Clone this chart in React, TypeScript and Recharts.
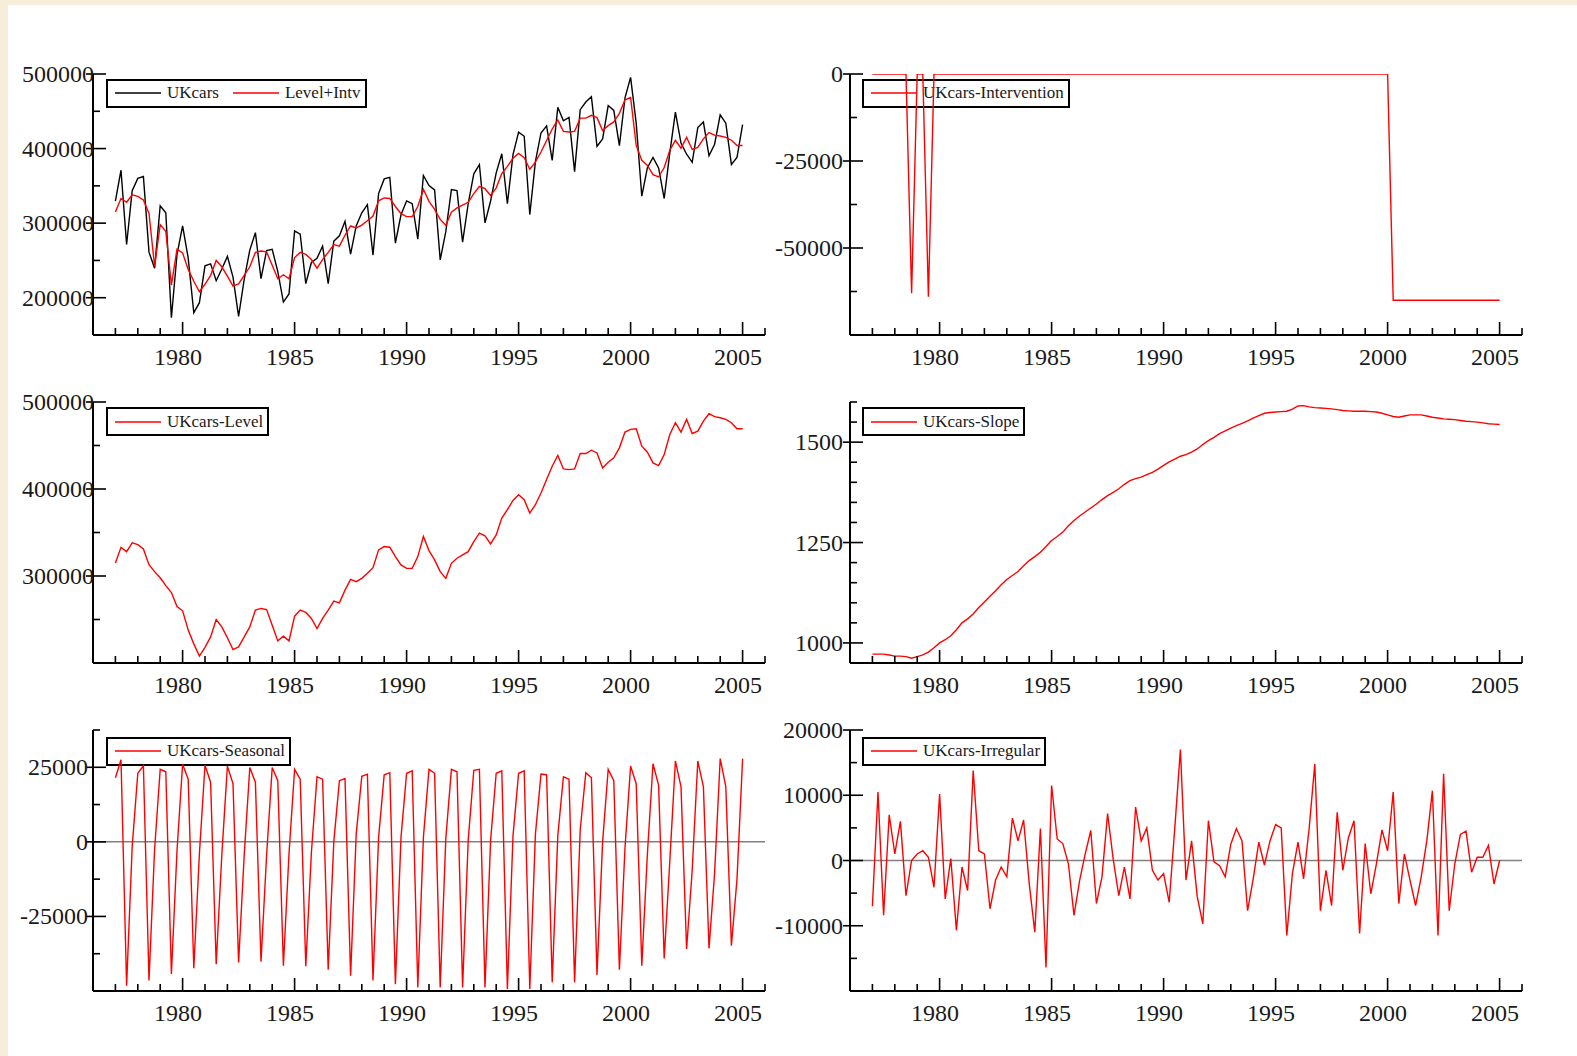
import React from 'react';
import { LineChart, Line, XAxis, YAxis, ReferenceLine } from 'recharts';

// quarterly observations, 1977Q1 .. 2005Q1 (one row per year)
const FIRST_YEAR = 1977;

const ukCars = [
  329500, 371000, 271400, 343500, // 1977
  360000, 362500, 261100, 239500,
  323300, 314000, 173200, 257900,
  296200, 253100, 179900, 193300, // 1980
  242700, 245400, 222800, 238500,
  255400, 227600, 175100, 224500,
  263900, 287300, 225500, 263200,
  264900, 234900, 194200, 205000,
  289600, 285100, 219000, 247200, // 1985
  253000, 269100, 218900, 275800,
  283100, 302500, 258500, 296200,
  313900, 324800, 257200, 339700,
  359300, 361300, 273100, 311200,
  329800, 326200, 278500, 363900, // 1990
  350500, 344500, 250700, 288600,
  345000, 343700, 274600, 326000,
  366100, 378400, 300400, 329700,
  367500, 393100, 326200, 391900,
  422000, 416500, 311500, 382400, // 1995
  420900, 430500, 384100, 455300,
  437200, 441800, 369100, 452200,
  462500, 469600, 403000, 413000,
  457700, 451200, 403900, 468100,
  495400, 434200, 336100, 374300, // 2000
  388200, 374000, 333000, 394200,
  449000, 407400, 392400, 381600,
  428100, 435600, 390300, 405800,
  445300, 434000, 378700, 388100,
  432100, // 2005
];

const level = [
  315000, 333000, 328000, 338000, // 1977
  336000, 331000, 313000, 305000,
  298000, 289000, 281000, 265000,
  260000, 238000, 222000, 208000, // 1980
  218000, 230000, 250000, 241500,
  229000, 215500, 218500, 230000,
  241500, 260800, 262700, 261500,
  243500, 225400, 230800, 225400,
  253800, 260800, 258100, 251200, // 1985
  239600, 251200, 260800, 271200,
  269200, 283800, 296200, 293500,
  297300, 303100, 309600, 330000,
  333800, 333100, 322300, 312700,
  308800, 308800, 322300, 345400, // 1990
  329200, 318500, 305000, 297300,
  314600, 320400, 324200, 328000,
  339600, 349200, 346200, 336900,
  347300, 366500, 376200, 386900,
  393500, 387700, 372300, 381900, // 1995
  395400, 410800, 426200, 438500,
  423100, 422300, 423100, 440800,
  440800, 444600, 441500, 424200,
  430800, 435800, 447300, 465400,
  468500, 469200, 449200, 442300, // 2000
  430000, 426900, 439600, 462700,
  476200, 465400, 480000, 463800,
  466500, 478100, 486500, 483100,
  481900, 480000, 476200, 469200,
  469200, // 2005
];

const intervention = [
  0, 0, 0, 0, // 1977
  0, 0, 0, -63000,
  0, 0, -64000, 0,
  0, 0, 0, 0, // 1980
  0, 0, 0, 0,
  0, 0, 0, 0,
  0, 0, 0, 0,
  0, 0, 0, 0,
  0, 0, 0, 0, // 1985
  0, 0, 0, 0,
  0, 0, 0, 0,
  0, 0, 0, 0,
  0, 0, 0, 0,
  0, 0, 0, 0, // 1990
  0, 0, 0, 0,
  0, 0, 0, 0,
  0, 0, 0, 0,
  0, 0, 0, 0,
  0, 0, 0, 0, // 1995
  0, 0, 0, 0,
  0, 0, 0, 0,
  0, 0, 0, 0,
  0, 0, 0, 0,
  0, -65000, -65000, -65000, // 2000
  -65000, -65000, -65000, -65000,
  -65000, -65000, -65000, -65000,
  -65000, -65000, -65000, -65000,
  -65000, -65000, -65000, -65000,
  -65000, // 2005
];

const slope = [
  972, 972, 972, 970, // 1977
  967, 967, 966, 962,
  966, 970, 977, 988,
  1000, 1008, 1018, 1033, // 1980
  1050, 1060, 1072, 1088,
  1102, 1116, 1130, 1145,
  1158, 1168, 1178, 1192,
  1205, 1215, 1226, 1240,
  1255, 1265, 1276, 1292, // 1985
  1305, 1316, 1326, 1336,
  1346, 1357, 1367, 1375,
  1384, 1395, 1404, 1409,
  1413, 1419, 1425, 1433,
  1442, 1451, 1458, 1465, // 1990
  1469, 1475, 1483, 1494,
  1504, 1512, 1521, 1528,
  1535, 1541, 1547, 1553,
  1560, 1566, 1572, 1574,
  1575, 1576, 1577, 1582, // 1995
  1590, 1591, 1588, 1586,
  1585, 1584, 1583, 1581,
  1579, 1578, 1577, 1577,
  1577, 1576, 1575, 1572,
  1568, 1564, 1562, 1565, // 2000
  1568, 1568, 1568, 1565,
  1562, 1560, 1558, 1557,
  1556, 1554, 1552, 1551,
  1550, 1548, 1546, 1545,
  1544, // 2005
];

const seasonal = [
  21500, 27500, -48200, -1500, // 1977
  23000, 25500, -46500, -2500,
  24300, 23500, -44300, -3000,
  26000, 21000, -42400, -4000, // 1980
  25700, 20000, -41000, -4500,
  25400, 19500, -40400, -4500,
  24900, 20000, -40200, -4500,
  24900, 20500, -41500, -4000,
  24300, 21000, -41700, -3500, // 1985
  21800, 21000, -42900, 0,
  20500, 21200, -44900, 2500,
  22000, 22700, -46500, 1500,
  22500, 23200, -47700, 1500,
  23000, 23800, -48800, 1500, // 1990
  24300, 23000, -48800, 1000,
  24300, 23500, -48800, 500,
  24000, 24300, -48800, 500,
  23000, 23800, -49300, 2000,
  23000, 23800, -49300, 2500, // 1995
  22700, 22500, -47100, 2000,
  21800, 21000, -47100, 4000,
  23200, 21500, -44600, 0,
  24300, 20500, -42900, -2000,
  25400, 19500, -41500, -4000, // 2000
  26200, 19000, -39100, -6500,
  27100, 18500, -35900, -9500,
  27100, 18500, -35700, -10500,
  27900, 18500, -34800, -12500,
  27900, // 2005
];

const irregular = [
  -7000, 10500, -8400, 7000, // 1977
  1000, 6000, -5400, 0,
  1000, 1500, 500, -4100,
  10200, -5900, 300, -10700, // 1980
  -1000, -4600, 13800, 1500,
  1000, -7400, -3000, -1000,
  -2500, 6500, 3000, 6200,
  -3500, -11000, 4900, -16400,
  11500, 3300, 2600, -500, // 1985
  -8400, -3100, 1000, 4600,
  -6600, -2500, 7200, 200,
  -5400, -1000, -5900, 8200,
  3000, 5000, -1500, -3000,
  -2000, -6400, 5000, 17000, // 1990
  -3000, 3000, -5500, -9700,
  6100, -200, -800, -2500,
  2500, 4900, 3000, -7700,
  -2800, 2800, -700, 3000,
  5500, 5000, -11500, -2000, // 1995
  2800, -2800, 5000, 14800,
  -7700, -1500, -6900, 7400,
  -1500, 3500, 6100, -11200,
  2600, -5100, -500, 4700,
  1500, 10500, -6600, 1000, // 2000
  -3000, -6900, -2500, 3000,
  10700, -11500, 13300, -7700,
  -500, 4000, 4500, -1800,
  500, 500, 2300, -3600,
  0, // 2005
];

const xTicks = [
  1977, 1978, 1979, 1980, 1981, 1982, 1983, 1984, 1985, 1986,
  1987, 1988, 1989, 1990, 1991, 1992, 1993, 1994, 1995, 1996,
  1997, 1998, 1999, 2000, 2001, 2002, 2003, 2004, 2005, 2006,
];
const xLabelYears = [1980, 1985, 1990, 1995, 2000, 2005];

const rows = ukCars.map((v, i) => ({
  t: FIRST_YEAR + i / 4,
  ukcars: v,
  levelIntv: level[i] + intervention[i],
  intervention: intervention[i],
  level: level[i],
  slope: slope[i],
  seasonal: seasonal[i],
  irregular: irregular[i],
}));

const FONT = '"Liberation Serif", "Times New Roman", serif';
const TEXT = '#1a1a1a';
const RED = '#ff0000';

// plot rectangle size and room around it
const PLOT_W = 672;
const PLOT_H = 261;
const AXIS_W = 90;
const AXIS_H = 44;
const PAD_T = 20;
const PAD_R = 6;

function XTick({ x, y, payload }: any) {
  const v = payload.value;
  const major = xLabelYears.includes(v);
  return (
    <g>
      <line x1={x} x2={x} y1={y} y2={y - (major ? 13 : 7)} stroke="#000" strokeWidth={1.6} />
      {major && (
        <text x={x - 4.5} y={y + 30} textAnchor="middle" fontFamily={FONT} fontSize={24} fill={TEXT}>
          {v}
        </text>
      )}
    </g>
  );
}

function makeYTick(major: number[], dx: number) {
  return ({ x, y, payload }: any) => {
    const v = payload.value;
    const isMajor = major.includes(v);
    return (
      <g>
        <line
          x1={isMajor ? x - 7 : x}
          x2={x + (isMajor ? 13 : 7)}
          y1={y}
          y2={y}
          stroke="#000"
          strokeWidth={1.6}
        />
        {isMajor && (
          <text x={x + dx} y={y + 8} textAnchor="end" fontFamily={FONT} fontSize={24} fill={TEXT}>
            {v}
          </text>
        )}
      </g>
    );
  };
}

type Series = { key: string; color: string };

type PanelProps = {
  left: number;
  top: number;
  domain: [number, number];
  major: number[];
  minor: number[];
  series: Series[];
  zeroLine?: boolean;
  labelDx: number;
};

function Panel({ left, top, domain, major, minor, series, zeroLine, labelDx }: PanelProps) {
  const yTicks = [...major, ...minor].sort((a, b) => a - b);
  return (
    <div style={{ position: 'absolute', left: left - AXIS_W, top: top - PAD_T, zIndex: 2 }}>
      <LineChart
        width={AXIS_W + PLOT_W + PAD_R}
        height={PAD_T + PLOT_H + AXIS_H}
        data={rows}
        margin={{ top: PAD_T, right: PAD_R, bottom: 0, left: 0 }}
      >
        <XAxis
          dataKey="t"
          type="number"
          domain={[1976, 2006]}
          ticks={xTicks}
          interval={0}
          allowDataOverflow
          height={AXIS_H}
          tickSize={0}
          tickMargin={0}
          tickLine={false}
          axisLine={{ stroke: '#000', strokeWidth: 2 }}
          tick={(p: any) => <XTick {...p} />}
        />
        <YAxis
          type="number"
          domain={domain}
          ticks={yTicks}
          interval={0}
          allowDataOverflow
          width={AXIS_W}
          tickSize={0}
          tickMargin={0}
          tickLine={false}
          axisLine={{ stroke: '#000', strokeWidth: 2 }}
          tick={makeYTick(major, labelDx)}
        />
        {zeroLine && <ReferenceLine y={0} stroke="#808080" strokeWidth={1.5} />}
        {series.map((s) => (
          <Line
            key={s.key}
            dataKey={s.key}
            type="linear"
            stroke={s.color}
            strokeWidth={1.4}
            dot={false}
            activeDot={false}
            isAnimationActive={false}
          />
        ))}
      </LineChart>
    </div>
  );
}

function LegendBox({ left, top, items }: { left: number; top: number; items: { label: string; color: string }[] }) {
  return (
    <div
      style={{
        position: 'absolute',
        left,
        top,
        height: 29,
        boxSizing: 'border-box',
        border: '2px solid #000',
        background: '#fff',
        display: 'flex',
        alignItems: 'center',
        padding: '0 4px 0 7px',
        fontFamily: FONT,
        fontSize: 17,
        color: TEXT,
        whiteSpace: 'nowrap',
        zIndex: 1,
      }}
    >
      {items.map((it, k) => (
        <span key={it.label} style={{ display: 'flex', alignItems: 'center', marginLeft: k ? 14 : 0 }}>
          <svg width={46} height={4} style={{ display: 'block' }}>
            <line x1={0} x2={46} y1={2} y2={2} stroke={it.color} strokeWidth={1.5} />
          </svg>
          <span style={{ marginLeft: 6 }}>{it.label}</span>
        </span>
      ))}
    </div>
  );
}

const LEFT_X = 93;
const RIGHT_X = 850;

export default function App() {
  return (
    <div
      style={{
        position: 'absolute',
        left: 0,
        top: 0,
        width: 1577,
        height: 1056,
        overflow: 'hidden',
        background: '#f6eddb',
      }}
    >
      <div style={{ position: 'absolute', left: 8, top: 5, right: 0, bottom: 0, background: '#fff' }} />

      <LegendBox left={106} top={78.5} items={[{ label: 'UKcars', color: '#000' }, { label: 'Level+Intv', color: RED }]} />
      <Panel
        left={LEFT_X}
        top={74}
        domain={[150000, 500000]}
        major={[200000, 300000, 400000, 500000]}
        minor={[250000, 350000, 450000]}
        series={[{ key: 'ukcars', color: '#000' }, { key: 'levelIntv', color: RED }]}
        labelDx={1}
      />

      <LegendBox left={862} top={78.5} items={[{ label: 'UKcars-Intervention', color: RED }]} />
      <Panel
        left={RIGHT_X}
        top={74}
        domain={[-75000, 0]}
        major={[-50000, -25000, 0]}
        minor={[-62500, -37500, -12500]}
        series={[{ key: 'intervention', color: RED }]}
        labelDx={-7}
      />

      <LegendBox left={106} top={407} items={[{ label: 'UKcars-Level', color: RED }]} />
      <Panel
        left={LEFT_X}
        top={402}
        domain={[200000, 500000]}
        major={[300000, 400000, 500000]}
        minor={[250000, 350000, 450000]}
        series={[{ key: 'level', color: RED }]}
        labelDx={1}
      />

      <LegendBox left={862} top={407} items={[{ label: 'UKcars-Slope', color: RED }]} />
      <Panel
        left={RIGHT_X}
        top={402}
        domain={[950, 1600]}
        major={[1000, 1250, 1500]}
        minor={[1050, 1100, 1150, 1200, 1300, 1350, 1400, 1450, 1550, 1600]}
        series={[{ key: 'slope', color: RED }]}
        labelDx={-7}
      />

      <LegendBox left={106} top={736.5} items={[{ label: 'UKcars-Seasonal', color: RED }]} />
      <Panel
        left={LEFT_X}
        top={730}
        domain={[-50000, 37500]}
        major={[-25000, 0, 25000]}
        minor={[-37500, -12500, 12500, 37500]}
        series={[{ key: 'seasonal', color: RED }]}
        zeroLine
        labelDx={-5}
      />

      <LegendBox left={862} top={736.5} items={[{ label: 'UKcars-Irregular', color: RED }]} />
      <Panel
        left={RIGHT_X}
        top={730}
        domain={[-20000, 20000]}
        major={[-10000, 0, 10000, 20000]}
        minor={[-15000, -5000, 5000, 15000]}
        series={[{ key: 'irregular', color: RED }]}
        zeroLine
        labelDx={-7}
      />
    </div>
  );
}
